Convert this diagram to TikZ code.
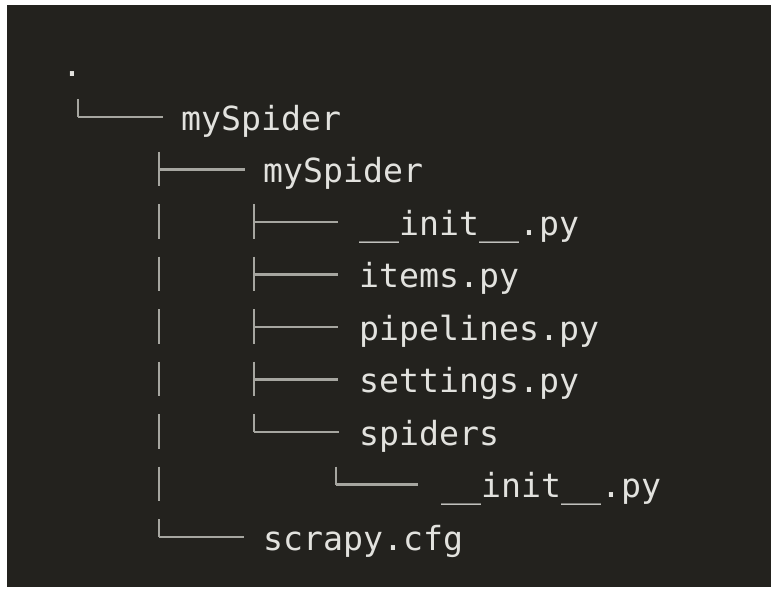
\documentclass[tikz,border=0pt]{standalone}
\usepackage{fontspec}
\setmonofont{DejaVu Sans Mono}
\usepackage{xcolor}
\definecolor{termbg}{HTML}{23221E}
\definecolor{termfg}{HTML}{E2E2DE}
\definecolor{termln}{HTML}{A6A6A0}

\begin{document}
\begin{tikzpicture}[x=1pt, y=-1pt,
        entry/.style={anchor=west, inner sep=0pt, text height=26pt, text depth=0pt, text=termfg,
            font=\ttfamily\fontsize{33.2}{40}\selectfont},
        trunk/.style={termln, line width=2.6pt, dash pattern=on 34.5pt off 18pt},
        branch/.style={termln, line width=2.6pt}]
            \useasboundingbox (0, 0) rectangle (778, 594);
            \fill[white] (0, 0) rectangle (778, 594);
            \fill[termbg] (7, 5) rectangle (771, 587);

            \node[entry] at (62, 63)    (root) {.};
            \node[entry] at (181, 117)  (top) {mySpider};
            \node[entry] at (263, 169.5) (pkg) {mySpider};
            \node[entry] at (359, 222)  (init) {\_\_init\_\_.py};
            \node[entry] at (359, 274.5) (items) {items.py};
            \node[entry] at (359, 327)  (pipes) {pipelines.py};
            \node[entry] at (359, 379.5) (sets) {settings.py};
            \node[entry] at (359, 432)  (spiders) {spiders};
            \node[entry] at (441, 484.5) (subinit) {\_\_init\_\_.py};
            \node[entry] at (263, 537)  (cfg) {scrapy.cfg};

            \coordinate (t0) at (78, 0);
            \coordinate (t1) at (159, 0);
            \coordinate (t2) at (254, 0);
            \coordinate (t3) at (336, 0);

            % vertical bars
            \draw [trunk] (t0 |- top.west) ++(0, -18) -- (t0 |- top.west);
            \draw [trunk] (t1 |- pkg.west) ++(0, -18) -- (t1 |- cfg.west);
            \draw [trunk] (t2 |- init.west) ++(0, -18) -- (t2 |- spiders.west);
            \draw [trunk] (t3 |- subinit.west) ++(0, -18) -- (t3 |- subinit.west);

            % branches
            \draw [branch] (t0 |- top.west) -- ([xshift=-18pt]top.west);
            \draw [branch] (t1 |- pkg.west) -- ([xshift=-18pt]pkg.west);
            \draw [branch] (t1 |- cfg.west) -- ([xshift=-19pt]cfg.west);
            \draw [branch] (t2 |- init.west) -- ([xshift=-21pt]init.west);
            \draw [branch] (t2 |- items.west) -- ([xshift=-21pt]items.west);
            \draw [branch] (t2 |- pipes.west) -- ([xshift=-21pt]pipes.west);
            \draw [branch] (t2 |- sets.west) -- ([xshift=-21pt]sets.west);
            \draw [branch] (t2 |- spiders.west) -- ([xshift=-20pt]spiders.west);
            \draw [branch] (t3 |- subinit.west) -- ([xshift=-23pt]subinit.west);
\end{tikzpicture}
\end{document}
